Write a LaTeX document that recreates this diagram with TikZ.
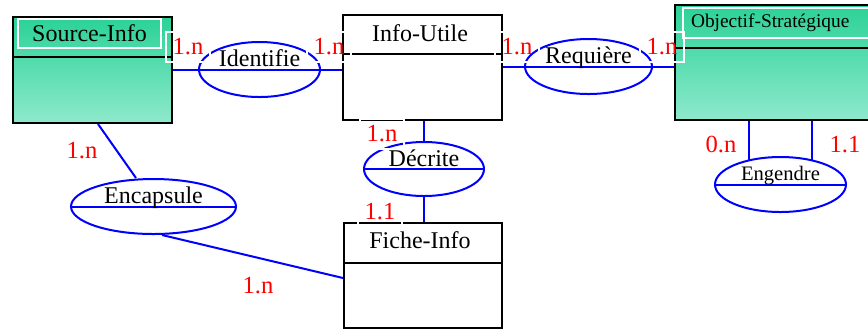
\documentclass[tikz,border=0pt]{standalone}
\usepackage{fontspec}
\setmainfont{Liberation Serif}
\usepackage{xcolor}
\usepackage{tikz}
\usetikzlibrary{shapes.geometric}
\definecolor{entTop}{HTML}{2AD297}
\definecolor{entMid}{HTML}{58DCAD}
\definecolor{entBot}{HTML}{8EE9CC}

\begin{document}
\begin{tikzpicture}[x=0.5pt, y=-0.5pt,
    font=\fontsize{12}{14}\selectfont,
    entity/.style={draw, rectangle, line width=1pt, inner sep=0pt},
    greenent/.style={entity, top color=entTop, middle color=entMid, bottom color=entBot},
    whiteent/.style={entity, fill=white},
    titlebox/.style={draw=white, line width=1pt, inner sep=0pt},
    assoc/.style={draw=blue, ellipse, line width=1pt, inner sep=0pt, minimum height=27.5pt},
    asstext/.style={anchor=base, yshift=1.5pt, inner sep=0pt},
    link/.style={draw=blue, line width=1pt},
    card/.style={text=red, draw=white, line width=1pt, font=\fontsize{12.3}{14}\selectfont,
        minimum width=22pt, minimum height=15pt, inner sep=0pt}]
    \useasboundingbox (0,0) rectangle (868,329);

    % entities
    \node[greenent, minimum width=79.5pt, minimum height=53pt] (src) at (92.5,70) {};
    \node[whiteent, minimum width=79.5pt, minimum height=52.5pt] (infou) at (422.5,67.5) {};
    \node[greenent, minimum width=107.5pt, minimum height=57.5pt] (obj) at (782.5,62.5) {};
    \node[whiteent, minimum width=79pt, minimum height=52.5pt] (fiche) at (423,275.5) {};

    \draw[line width=1pt] (src.west |- 0,57) -- (src.east |- 0,57);
    \draw[line width=1pt] (infou.west |- 0,54) -- (infou.east |- 0,54);
    \draw[line width=1pt] (obj.west |- 0,48) -- (obj.east |- 0,48);
    \draw[line width=1pt] (fiche.west |- 0,263) -- (fiche.east |- 0,263);

    \node[titlebox, minimum width=71.5pt, minimum height=14.5pt] (srct) at (89.5,33.5) {Source-Info};
    \node (infout) at (420,33) {Info-Utile};
    \node[titlebox, anchor=west, text width=96pt, inner xsep=4pt, align=left, minimum height=15pt,
        font=\fontsize{9.7}{11}\selectfont] (objt) at (682,23) {Objectif-Stratégique};
    \node (fichet) at (420,240) {Fiche-Info};

    % associations
    \node[assoc, minimum width=60.5pt] (idf) at (259.5,69.5) {};
    \node[assoc, minimum width=63.5pt] (req) at (588.5,66.5) {};
    \node[assoc, minimum width=60pt, minimum height=27pt] (dec) at (424,169) {};
    \node[assoc, minimum width=82.5pt] (enc) at (153.5,206.5) {};
    \node[assoc, minimum width=65.5pt] (eng) at (780.5,184.5) {};

    % links
    \draw[link] (src.east |- idf.center) -- (infou.west |- idf.center);
    \draw[link] (infou.east |- req.center) -- (obj.west |- req.center);
    \draw[link] (infou.south -| dec.center) -- (dec.north);
    \draw[link] (dec.south) -- (fiche.north -| dec.center);
    \draw[link] (dec.west) -- (dec.east);
    \draw[link] ([xshift=2.75pt]src.south) -- ([xshift=-8.75pt]enc.north);
    \draw[link] ([xshift=4.25pt]enc.south) -- ([yshift=-1.25pt]fiche.west);
    \draw[link] (enc.west) -- (enc.east);
    \draw[link] (eng.142) -- (eng.142 |- obj.south);
    \draw[link] (eng.38) -- (eng.38 |- obj.south);
    \draw[link] (eng.west) -- (eng.east);

    \node[asstext] (idft) at (idf.center) {Identifie};
    \node[asstext] (reqt) at (req.center) {Requière};
    \node[asstext] (dect) at (dec.center) {Décrite};
    \node[asstext] (enct) at (enc.center) {Encapsule};
    \node[asstext, yshift=0.5pt, font=\fontsize{10.3}{12}\selectfont] (engt) at (eng.center) {Engendre};

    % cardinalities
    \node[card] (c1) at (188,47) {1.n};
    \node[card] (c2) at (329,47) {1.n};
    \node[card] (c3) at (517,47) {1.n};
    \node[card] (c4) at (662,47) {1.n};
    \node[card] (c5) at (382,134) {1.n};
    \node[card] (c6) at (380,212) {1.1};
    \node[card] (c7) at (82,151) {1.n};
    \node[card] (c8) at (258,286) {1.n};
    \node[card] (c9) at (721,144) {0.n};
    \node[card] (c10) at (845,145) {1.1};
\end{tikzpicture}
\end{document}
